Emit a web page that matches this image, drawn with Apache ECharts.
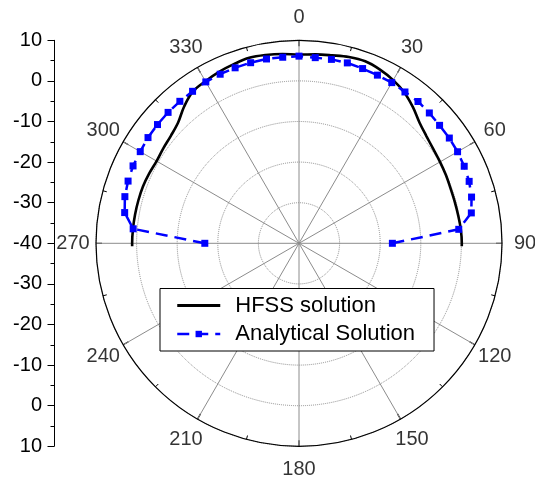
<!DOCTYPE html>
<html>
<head>
<meta charset="utf-8">
<script src="https://cdn.jsdelivr.net/npm/echarts@6/dist/echarts.min.js"></script>
<style>
  html, body { margin: 0; padding: 0; background: #fff; }
  #chart { width: 535px; height: 481px; }
</style>
</head>
<body>
<div id="chart"></div>
<script>
// Radiation pattern (dB) versus angle in degrees, 0 at top, clockwise.
const hfssAngles = [269, 270, 275, 280, 285, 290, 295, 300, 305, 310, 315, 320, 325, 330, 335, 340, 345, 350, 355,
                    0, 5, 10, 15, 20, 25, 30, 35, 40, 45, 50, 55, 60, 65, 70, 75, 80, 85, 90, 91];
const hfssValues = [1.1, 1.1, 1.05, 1.0, 0.95, 0.9, 0.7, 0.5, 0.8, 1.2, 2.1, 4.0, 5.6, 6.1, 6.6, 6.95, 7.3, 7.1, 6.8,
                    6.5, 6.7, 7.0, 7.5, 7.7, 7.2, 6.4, 5.3, 3.7, 2.0, 1.0, 0.4, 0.1, -0.1, -0.3, -0.3, -0.2, 0.0, 0.1, 0.1];

const analyticAngles = [270, 275, 280, 285, 290, 295, 300, 305, 310, 315, 320, 325, 330, 335, 340, 345, 350, 355,
                        0, 5, 10, 15, 20, 25, 30, 35, 40, 45, 50, 55, 60, 65, 70, 75, 80, 85, 90];
const analyticValues = [-16.8, 1.0, 3.6, 4.4, 4.8, 5.1, 5.15, 5.4, 5.5, 5.6, 5.65, 5.7, 5.9, 5.95, 6.0, 6.05, 6.1, 6.0,
                        6.1, 5.9, 6.0, 6.0, 5.8, 5.7, 5.7, 5.5, 5.6, 5.4, 5.2, 5.2, 5.1, 4.9, 4.6, 4.0, 3.1, -0.5, -17.0];

// Angle tick labels around the rim
const angleTickValues = [0, 30, 60, 90, 120, 150, 180, 210, 240, 270, 300, 330];
const angleTickLabels = ['0', '30', '60', '90', '120', '150', '180', '210', '240', '270', '300', '330'];

// Mirrored radial scale on the left, read top to bottom
const radialTickLabels = ['10', '0', '-10', '-20', '-30', '-40', '-30', '-20', '-10', '0', '10'];

const FONT = 'Liberation Sans, Arial, sans-serif';
const CX = 299, CY = 243.3, R = 203;

const chart = echarts.init(document.getElementById('chart'), null, { renderer: 'canvas' });

chart.setOption({
  animation: false,
  backgroundColor: '#fff',
  textStyle: { fontFamily: FONT },
  polar: [
    { center: [CX, CY], radius: R },
    { center: [CX, CY], radius: 226 }
  ],
  angleAxis: [
    {
      polarIndex: 0,
      type: 'value', min: 0, max: 360, interval: 30,
      startAngle: 90, clockwise: true,
      axisLine: { show: true, lineStyle: { color: '#000', width: 1.2 } },
      axisTick: { show: true, inside: true, length: 6, lineStyle: { color: '#000', width: 1.2 } },
      minorTick: { show: true, splitNumber: 2, length: 4, lineStyle: { color: '#000', width: 1 } },
      axisLabel: { show: false },
      splitLine: { show: true, lineStyle: { color: '#8c8c8c', width: 1, type: 'solid' } }
    },
    {
      polarIndex: 1, show: false,
      type: 'value', min: 0, max: 360, startAngle: 90, clockwise: true
    }
  ],
  radiusAxis: [
    {
      polarIndex: 0,
      type: 'value', min: -40, max: 10, interval: 10,
      axisLine: { show: false }, axisTick: { show: false }, axisLabel: { show: false },
      splitLine: { show: true, lineStyle: { color: '#8c8c8c', width: 1, type: 'dotted' } }
    },
    { polarIndex: 1, show: false, type: 'value', min: 0, max: 1 }
  ],
  grid: { left: 54, top: CY - R, width: 1, height: 2 * R },
  xAxis: { type: 'value', show: false, min: 0, max: 1 },
  yAxis: {
    type: 'value', min: -50, max: 50, interval: 10,
    axisLine: { show: true, lineStyle: { color: '#000', width: 1 } },
    axisTick: { show: true, length: 6.5, lineStyle: { color: '#000', width: 1 } },
    minorTick: { show: true, splitNumber: 2, length: 3.5, lineStyle: { color: '#000', width: 1 } },
    splitLine: { show: false },
    axisLabel: {
      margin: 12, color: '#000', fontSize: 20, fontFamily: FONT,
      formatter: v => radialTickLabels[Math.round((50 - v) / 10)]
    }
  },
  legend: {
    orient: 'vertical', left: 160, top: 288.5,
    padding: [6, 19, 6, 16], itemGap: 6.5,
    itemWidth: 43, itemHeight: 8,
    backgroundColor: '#fff', borderColor: '#000', borderWidth: 1, borderRadius: 0,
    textStyle: { fontSize: 22, color: '#000', fontFamily: FONT, padding: [0, 0, 0, 10] },
    lineStyle: { width: 2.5 },
    data: [
      { name: 'HFSS solution', icon: 'path://M0 0H43V3H0Z' },
      { name: 'Analytical Solution' }
    ]
  },
  series: [
    {
      name: 'HFSS solution', type: 'line', coordinateSystem: 'polar', polarIndex: 0,
      data: hfssAngles.map((a, i) => [hfssValues[i], a]),
      smooth: 0.35, showSymbol: false, symbol: 'none',
      color: '#000',
      lineStyle: { color: '#000', width: 2.6 },
      z: 3
    },
    {
      name: 'Analytical Solution', type: 'line', coordinateSystem: 'polar', polarIndex: 0,
      data: analyticAngles.map((a, i) => [analyticValues[i], a]),
      symbol: 'rect', symbolSize: 7, showSymbol: true,
      color: '#0000ff',
      itemStyle: { color: '#0000ff' },
      lineStyle: { color: '#0000ff', width: 2.5, type: [12, 7] },
      z: 4
    },
    {
      name: 'angleLabels', type: 'scatter', coordinateSystem: 'polar', polarIndex: 1,
      data: angleTickValues.map(a => [1, a]),
      symbolSize: 1, itemStyle: { color: 'rgba(0,0,0,0)' }, silent: true,
      label: {
        show: true, position: 'inside', color: '#000', fontSize: 20, fontFamily: FONT,
        formatter: p => angleTickLabels[p.dataIndex]
      },
      z: 5
    }
  ]
});
</script>
</body>
</html>
